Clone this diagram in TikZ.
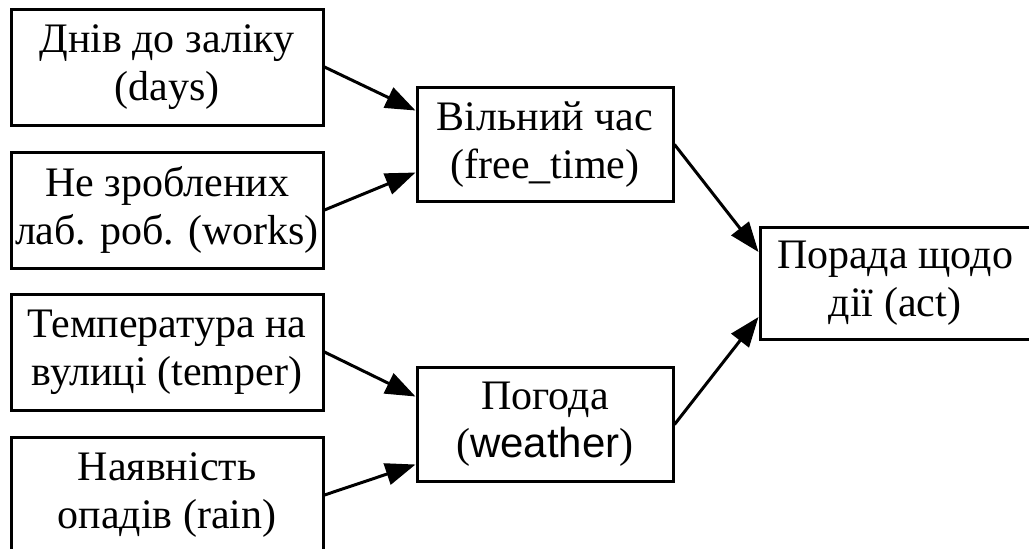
\documentclass[tikz,border=0pt]{standalone}
\usepackage{fontspec}
\setmainfont{Liberation Serif}
\setsansfont{Liberation Sans}
\usetikzlibrary{arrows.meta}
\tikzset{
        inbox/.style={draw=black, line width=1.5pt, rectangle, align=center, inner sep=0pt,
          minimum width=156pt, minimum height=58pt, font=\fontsize{21}{24}\selectfont},
        midbox/.style={inbox, minimum width=128pt, minimum height=57pt},
        outbox/.style={inbox, minimum width=135pt, minimum height=56pt},
        arr/.style={line width=1.5pt, -{Triangle[length=15pt, width=11pt]}}
          }
\begin{document}
\begin{tikzpicture}[x=0.5pt, y=-0.5pt]
        \useasboundingbox (0,0) rectangle (1029,548);
        \clip (0,0) rectangle (1029,548);
        \node[inbox] (days) at (167,67) {Днів до заліку\\(days)};
        \node[inbox] (works) at (167,210) {Не зроблених\\лаб. роб. (works)};
        \node[inbox] (temper) at (167,352) {Температура на\\вулиці (temper)};
        \node[inbox] (rain) at (167,495) {Наявність\\опадів (rain)};
        \node[midbox] (free) at (545,144.5) {Вільний час\\(free\_time)};
        \node[midbox] (weather) at (545,424.5) {Погода\\(\textsf{weather})};
        \node[outbox] (act) at (895,283) {Порада щодо\\дії (act)};
        \draw[arr] (days.east) -- ([yshift=17pt]free.west);
        \draw[arr] (works.east) -- ([yshift=-14pt]free.west);
        \draw[arr] (temper.east) -- ([yshift=14pt]weather.west);
        \draw[arr] (rain.east) -- ([yshift=-20pt]weather.west);
        \draw[arr] (free.east) -- ([yshift=15.5pt]act.west);
        \draw[arr] (weather.east) -- ([yshift=-17pt]act.west);
      \end{tikzpicture}
\end{document}
